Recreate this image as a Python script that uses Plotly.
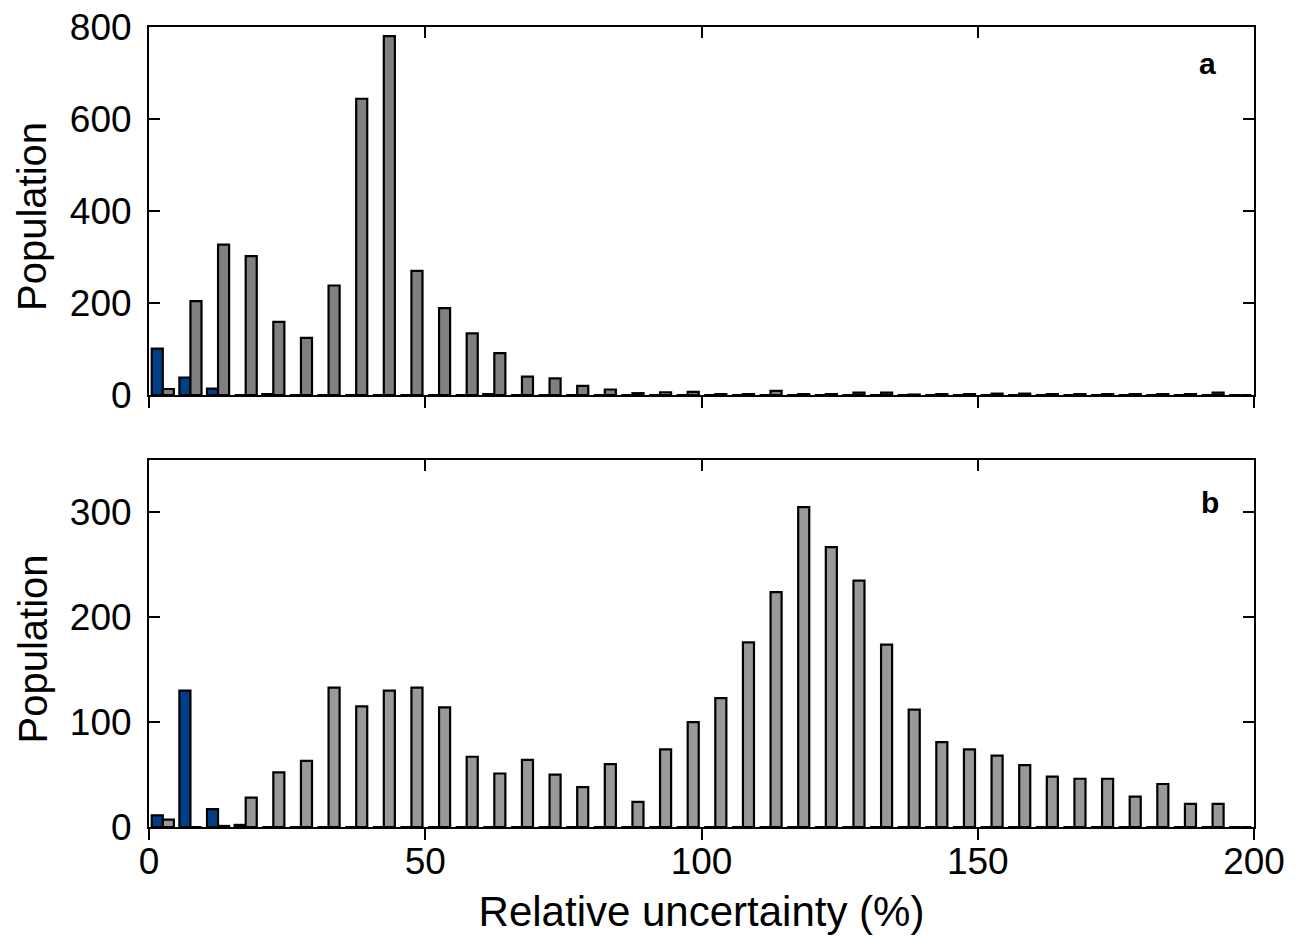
import plotly.graph_objects as go

# bin centres (5 % wide bins from 0 to 200)
bin_centers = [2.5 + 5 * i for i in range(40)]

# panel a
a_blue = [101, 38, 14, 0, 2, 0, 0, 0, 0, 0, 0, 0, 2, 0, 0, 0, 0, 0, 0, 0,
          0, 0, 0, 0, 0, 0, 0, 0, 0, 0, 0, 0, 0, 0, 0, 0, 0, 0, 0, 0]
a_gray = [13, 204, 327, 302, 159, 124, 238, 644, 780, 270, 189, 134, 91, 40, 36, 20, 12, 4, 6, 7,
          2, 2, 9, 2, 2, 5, 5, 1, 2, 2, 3, 3, 2, 2, 2, 2, 2, 2, 5, 0]

# panel b
b_blue = [11, 130, 17, 2, 0, 0, 0, 0, 0, 0, 0, 0, 0, 0, 0, 0, 0, 0, 0, 0,
          0, 0, 0, 0, 0, 0, 0, 0, 0, 0, 0, 0, 0, 0, 0, 0, 0, 0, 0, 0]
b_gray = [7, 0, 1, 28, 52, 63, 133, 115, 130, 133, 114, 67, 51, 64, 50, 38, 60, 24, 74, 100,
          123, 176, 224, 305, 267, 235, 174, 112, 81, 74, 68, 59, 48, 46, 46, 29, 41, 22, 22, 0]

x_ticks = [0, 50, 100, 150, 200]
a_yticks = [0, 200, 400, 600, 800]
b_yticks = [0, 100, 200, 300]

BLUE = "#003F87"
GRAY_A = "#808080"
GRAY_B = "#999999"
FONT = "Liberation Sans"

fig = go.Figure()
line = dict(color="black", width=2.2)
fig.add_trace(go.Bar(x=bin_centers, y=a_blue, marker=dict(color=BLUE, line=line),
                     xaxis="x", yaxis="y", showlegend=False))
fig.add_trace(go.Bar(x=bin_centers, y=a_gray, marker=dict(color=GRAY_A, line=line),
                     xaxis="x", yaxis="y", showlegend=False))
fig.add_trace(go.Bar(x=bin_centers, y=b_blue, marker=dict(color=BLUE, line=line),
                     xaxis="x2", yaxis="y2", showlegend=False))
fig.add_trace(go.Bar(x=bin_centers, y=b_gray, marker=dict(color=GRAY_B, line=line),
                     xaxis="x2", yaxis="y2", showlegend=False))
# empty traces to make the top tick axes exist
fig.add_trace(go.Scatter(x=[], y=[], xaxis="x3", yaxis="y", showlegend=False))
fig.add_trace(go.Scatter(x=[], y=[], xaxis="x4", yaxis="y2", showlegend=False))

tickfont = dict(family=FONT, size=37, color="black")

common_x = dict(range=[0, 200], tickvals=x_ticks, showline=True, linecolor="black",
                linewidth=2, mirror=True, ticks="outside", ticklen=11, tickwidth=1.5,
                tickcolor="black", showgrid=False, zeroline=False, tickfont=tickfont,
                ticklabeloverflow="allow", automargin=False)
top_x = dict(range=[0, 200], tickvals=x_ticks, showline=False, side="top",
             ticks="inside", ticklen=11, tickwidth=1.5, tickcolor="black",
             showgrid=False, zeroline=False, showticklabels=False, automargin=False)
common_y = dict(showline=True, linecolor="black", linewidth=2, mirror="ticks",
                ticks="inside", ticklen=11, tickwidth=1.5, tickcolor="black",
                showgrid=False, zeroline=False, tickfont=tickfont,
                ticklabelstandoff=8, ticklabeloverflow="allow", automargin=False)

ytitle = dict(text="Population", textangle=-90, showarrow=False,
              xanchor="center", yanchor="middle", x=0, y=0.5, xshift=-117, yshift=-6,
              font=dict(family=FONT, size=40, color="black"))

fig.update_layout(
    width=1299, height=940,
    margin=dict(l=141, r=53, t=19, b=121),
    plot_bgcolor="white", paper_bgcolor="white",
    barmode="group", bargap=0.2, bargroupgap=0,
    font=dict(family=FONT, color="black"),
    xaxis=dict(domain=[0, 1], anchor="y", showticklabels=False, **common_x),
    xaxis2=dict(domain=[0, 1], anchor="y2", showticklabels=True, ticklabelstandoff=-10,
                title=dict(text="Relative uncertainty (%)",
                           font=dict(family=FONT, size=42, color="black"), standoff=15),
                **common_x),
    xaxis3=dict(overlaying="x", anchor="y", **top_x),
    xaxis4=dict(overlaying="x2", anchor="y2", **top_x),
    yaxis=dict(domain=[0.54, 1], anchor="x", range=[0, 800], tickvals=a_yticks, **common_y),
    yaxis2=dict(domain=[0, 0.45875], anchor="x2", range=[0, 350], tickvals=b_yticks, **common_y),
    annotations=[
        dict(xref="x domain", yref="y domain", **ytitle),
        dict(xref="x2 domain", yref="y2 domain", **ytitle),
        dict(text="<b>a</b>", xref="x domain", yref="y domain", x=0.958, y=0.90,
             xanchor="center", yanchor="middle",
             showarrow=False, font=dict(family=FONT, size=30, color="black")),
        dict(text="<b>b</b>", xref="x2 domain", yref="y2 domain", x=0.96, y=0.883,
             xanchor="center", yanchor="middle",
             showarrow=False, font=dict(family=FONT, size=30, color="black")),
    ],
)

fig.write_html("out.html")
